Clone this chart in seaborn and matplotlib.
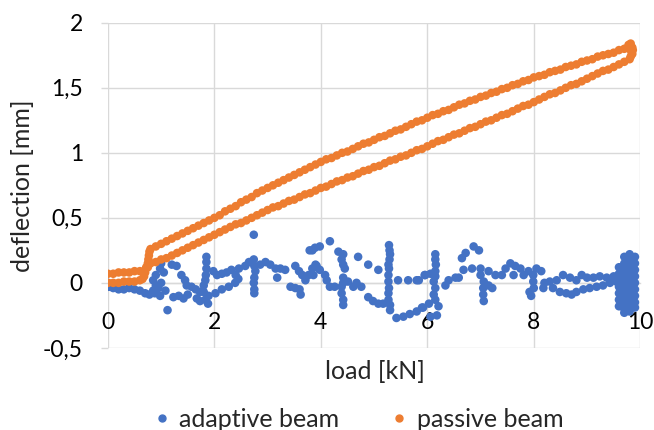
import matplotlib
matplotlib.use("Agg")
import matplotlib.pyplot as plt
from matplotlib.lines import Line2D
import seaborn as sns
import pandas as pd

# ---------------- data ----------------
passive_load_up = [0.0, 0.1, 0.2, 0.3, 0.4, 0.5, 0.6, 0.7,
                   0.75, 0.75, 0.76, 0.77, 0.78, 0.8,
                   0.9, 1.0, 1.1, 1.2, 1.3, 1.4, 1.5, 1.6, 1.7, 1.8, 1.9, 2.0,
                   2.1, 2.2, 2.3, 2.4, 2.5, 2.6, 2.7, 2.8, 2.9, 3.0,
                   3.1, 3.2, 3.3, 3.4, 3.5, 3.6, 3.7, 3.8, 3.9, 4.0,
                   4.1, 4.2, 4.3, 4.4, 4.5, 4.6, 4.7, 4.8, 4.9, 5.0,
                   5.1, 5.2, 5.3, 5.4, 5.5, 5.6, 5.7, 5.8, 5.9, 6.0,
                   6.1, 6.2, 6.3, 6.4, 6.5, 6.6, 6.7, 6.8, 6.9, 7.0,
                   7.1, 7.2, 7.3, 7.4, 7.5, 7.6, 7.7, 7.8, 7.9, 8.0,
                   8.1, 8.2, 8.3, 8.4, 8.5, 8.6, 8.7, 8.8, 8.9, 9.0,
                   9.1, 9.2, 9.3, 9.4, 9.5, 9.6, 9.7, 9.8,
                   9.82, 9.85, 9.83, 9.85, 9.82, 9.78, 9.86]
passive_defl_up = [0.07, 0.07, 0.08, 0.08, 0.08, 0.09, 0.09, 0.10,
                   0.12, 0.15, 0.18, 0.21, 0.24, 0.26,
                   0.28, 0.30, 0.32, 0.34, 0.36, 0.38, 0.40, 0.42, 0.44, 0.46, 0.48, 0.50,
                   0.52, 0.55, 0.57, 0.59, 0.62, 0.64, 0.66, 0.69, 0.71, 0.73,
                   0.75, 0.77, 0.79, 0.81, 0.83, 0.85, 0.87, 0.89, 0.91, 0.93,
                   0.95, 0.96, 0.98, 1.00, 1.01, 1.03, 1.05, 1.07, 1.08, 1.10,
                   1.12, 1.13, 1.15, 1.17, 1.18, 1.20, 1.22, 1.24, 1.25, 1.27,
                   1.29, 1.30, 1.32, 1.33, 1.35, 1.37, 1.38, 1.40, 1.41, 1.43,
                   1.44, 1.46, 1.47, 1.49, 1.50, 1.52, 1.53, 1.55, 1.56, 1.58,
                   1.59, 1.60, 1.62, 1.63, 1.64, 1.66, 1.67, 1.68, 1.70, 1.71,
                   1.72, 1.74, 1.75, 1.76, 1.77, 1.79, 1.80, 1.82,
                   1.84, 1.81, 1.78, 1.76, 1.74, 1.83, 1.79]

passive_load_down = [9.8, 9.7, 9.6, 9.5, 9.4, 9.3, 9.2, 9.1, 9.0,
                     8.9, 8.8, 8.7, 8.6, 8.5, 8.4, 8.3, 8.2, 8.1, 8.0,
                     7.9, 7.8, 7.7, 7.6, 7.5, 7.4, 7.3, 7.2, 7.1, 7.0,
                     6.9, 6.8, 6.7, 6.6, 6.5, 6.4, 6.3, 6.2, 6.1, 6.0,
                     5.9, 5.8, 5.7, 5.6, 5.5, 5.4, 5.3, 5.2, 5.1, 5.0,
                     4.9, 4.8, 4.7, 4.6, 4.5, 4.4, 4.3, 4.2, 4.1, 4.0,
                     3.9, 3.8, 3.7, 3.6, 3.5, 3.4, 3.3, 3.2, 3.1, 3.0,
                     2.9, 2.8, 2.7, 2.6, 2.5, 2.4, 2.3, 2.2, 2.1, 2.0,
                     1.9, 1.8, 1.7, 1.6, 1.5, 1.4, 1.3, 1.2, 1.1, 1.0, 0.9, 0.8,
                     0.72, 0.7, 0.68, 0.65, 0.6, 0.5, 0.4, 0.3, 0.2, 0.1, 0.0]
passive_defl_down = [1.72, 1.70, 1.68, 1.66, 1.64, 1.63, 1.61, 1.59, 1.57,
                     1.55, 1.53, 1.52, 1.50, 1.48, 1.46, 1.45, 1.43, 1.41, 1.39,
                     1.37, 1.36, 1.34, 1.32, 1.30, 1.29, 1.27, 1.25, 1.24, 1.22,
                     1.20, 1.19, 1.17, 1.15, 1.14, 1.12, 1.10, 1.09, 1.07, 1.05,
                     1.03, 1.02, 1.00, 0.98, 0.97, 0.95, 0.94, 0.92, 0.90, 0.89,
                     0.87, 0.86, 0.84, 0.82, 0.81, 0.79, 0.78, 0.76, 0.74, 0.73,
                     0.71, 0.69, 0.68, 0.66, 0.64, 0.63, 0.61, 0.59, 0.58, 0.56,
                     0.54, 0.52, 0.50, 0.48, 0.46, 0.45, 0.43, 0.41, 0.39, 0.37,
                     0.35, 0.33, 0.31, 0.29, 0.27, 0.25, 0.23, 0.21, 0.19, 0.18, 0.16, 0.15,
                     0.12, 0.08, 0.05, 0.03, 0.02, 0.01, 0.01, 0.01, 0.00, 0.00, 0.00]

# adaptive beam: (load kN, deflection mm) points
adaptive_points = [
    (0.0, 0.0), (0.02, -0.03), (0.1, -0.04), (0.2, -0.05), (0.3, -0.05), (0.4, -0.04),
    (0.5, -0.05), (0.6, -0.06), (0.7, -0.08), (0.78, -0.09), (0.85, -0.06), (0.9, -0.02),
    (0.85, 0.02), (0.9, 0.06), (0.98, 0.11), (1.0, 0.15), (1.05, 0.08), (1.0, 0.0),
    (0.95, -0.04), (0.88, -0.08), (0.98, -0.1), (1.08, -0.06), (1.12, -0.21), (1.2, 0.14),
    (1.29, 0.13), (1.38, 0.06), (1.45, 0.02), (1.48, -0.02), (1.23, -0.11), (1.33, -0.1),
    (1.42, -0.12), (1.5, -0.09), (1.57, -0.03), (1.65, -0.05), (1.73, -0.07), (1.67, -0.12),
    (1.73, -0.14), (1.85, 0.2), (1.85, 0.16), (1.85, 0.11), (1.84, 0.06), (1.83, 0.02),
    (1.8, -0.02), (1.8, -0.07), (1.83, -0.13), (1.88, -0.16),
    (1.98, 0.09), (2.05, 0.06), (2.14, 0.07), (2.23, 0.08), (2.32, 0.1), (2.46, 0.11),
    (2.4, 0.06), (1.89, -0.1), (2.02, -0.08), (2.14, -0.05), (2.27, -0.03), (2.39, 0.0),
    (2.45, 0.03), (2.74, 0.37), (2.58, 0.13), (2.65, 0.16), (2.74, 0.18), (2.75, 0.13),
    (2.77, 0.09), (2.75, 0.04), (2.74, 0.0), (2.75, -0.05), (2.75, -0.08),
    (2.86, 0.14), (2.96, 0.16), (3.05, 0.14), (3.15, 0.11), (3.24, 0.11), (3.33, 0.1),
    (3.18, 0.04), (3.43, -0.03), (3.52, -0.04), (3.62, -0.09), (3.6, -0.05),
    (3.52, 0.13), (3.59, 0.09), (3.65, 0.06), (3.71, 0.02), (3.77, 0.06), (3.84, 0.11),
    (3.84, 0.25), (3.79, 0.25), (3.89, 0.27), (3.98, 0.28), (4.17, 0.32), (3.9, 0.14),
    (3.92, 0.13), (3.98, 0.1), (3.86, 0.06),
    (4.08, 0.06), (4.11, 0.02), (4.17, -0.03), (4.26, -0.03),
    (4.33, 0.24), (4.42, 0.22), (4.39, 0.18), (4.42, 0.14), (4.45, 0.11),
    (4.42, 0.04), (4.42, 0.0), (4.39, -0.03), (4.39, -0.08), (4.42, -0.13), (4.42, -0.17),
    (4.51, 0.01), (4.61, -0.03), (4.67, 0.0), (4.76, -0.03),
    (4.7, 0.2), (4.89, 0.14), (5.08, 0.1),
    (4.89, -0.11), (4.98, -0.14), (5.08, -0.16), (5.17, -0.16), (5.27, -0.13), (5.3, -0.17),
    (5.3, -0.21), (5.28, 0.29), (5.29, 0.25), (5.3, 0.22), (5.29, 0.18), (5.28, 0.11),
    (5.27, 0.14), (5.27, 0.06), (5.27, 0.01), (5.28, -0.04), (5.27, -0.08),
    (5.45, 0.02), (5.64, 0.02), (5.8, 0.02), (5.95, 0.06),
    (5.42, -0.27), (5.55, -0.26), (5.67, -0.24), (5.8, -0.22), (5.92, -0.19),
    (6.15, 0.22), (6.15, 0.18), (6.16, 0.14), (6.15, 0.09), (6.15, 0.05), (6.12, 0.01),
    (6.15, -0.04), (6.12, -0.09), (5.84, 0.02), (5.96, 0.06), (6.06, 0.07),
    (6.03, -0.16), (6.15, -0.13), (6.21, -0.18), (5.9, -0.19), (6.18, -0.25), (6.06, -0.26),
    (6.34, -0.02), (6.4, 0.02), (6.53, 0.04), (6.59, 0.04),
    (6.65, 0.19), (6.72, 0.23), (6.68, 0.1), (6.84, 0.11), (6.87, 0.28), (6.97, 0.25),
    (7.0, 0.11), (7.0, 0.06), (7.06, 0.01), (7.05, -0.04), (7.05, -0.09), (7.06, -0.14),
    (7.22, -0.04), (7.15, -0.02),
    (7.15, 0.09), (7.28, 0.06), (7.4, 0.06), (7.47, 0.11), (7.56, 0.15), (7.65, 0.13),
    (7.75, 0.11), (7.81, 0.06), (7.9, 0.09), (7.62, 0.06),
    (7.99, 0.06), (8.05, 0.11), (8.14, 0.09), (7.99, 0.01), (8.0, -0.04), (7.92, -0.07),
    (7.95, -0.1),
    (8.18, -0.04), (8.2, 0.0), (8.3, 0.01), (8.43, 0.02), (8.55, 0.06), (8.68, 0.04),
    (8.8, 0.02), (8.9, 0.06), (9.0, 0.04), (9.12, 0.04), (9.24, 0.05), (9.37, 0.04),
    (9.5, 0.05), (8.36, -0.04), (8.49, -0.07), (8.61, -0.08), (8.71, -0.09), (8.8, -0.07),
    (8.93, -0.05), (9.05, -0.04), (9.18, -0.03), (9.3, -0.02), (9.43, 0.0), (9.55, 0.01),
    (9.6, 0.12), (9.6, 0.07), (9.6, 0.02), (9.6, -0.03), (9.6, -0.08), (9.6, -0.13), (9.6, -0.18),
    (9.7, 0.2), (9.7, 0.15), (9.7, 0.1), (9.7, 0.05), (9.7, 0.0), (9.7, -0.05), (9.7, -0.1),
    (9.7, -0.15), (9.7, -0.2), (9.7, -0.23),
    (9.8, 0.22), (9.8, 0.17), (9.8, 0.12), (9.8, 0.07), (9.8, 0.02), (9.8, -0.03), (9.8, -0.08),
    (9.8, -0.13), (9.8, -0.18), (9.8, -0.22),
    (9.9, 0.2), (9.9, 0.15), (9.9, 0.1), (9.9, 0.05), (9.9, 0.0), (9.9, -0.05), (9.9, -0.1),
    (9.9, -0.15), (9.9, -0.19),
]

series_names = ["adaptive beam", "passive beam"]
series_colors = ["#4472C4", "#ED7D31"]
x_ticks = [0, 2, 4, 6, 8, 10]
y_ticks = [-0.5, 0, 0.5, 1, 1.5, 2]
y_tick_labels = ["-0,5", "0", "0,5", "1", "1,5", "2"]

# ---------------- build table ----------------
adaptive_load = [p[0] for p in adaptive_points]
adaptive_defl = [p[1] for p in adaptive_points]
passive_load = passive_load_up + passive_load_down
passive_defl = passive_defl_up + passive_defl_down

df = pd.DataFrame({
    "load": adaptive_load + passive_load,
    "deflection": adaptive_defl + passive_defl,
    "series": [series_names[0]] * len(adaptive_load) + [series_names[1]] * len(passive_load),
})

sns.set_theme(style="white")
plt.rcParams["font.family"] = ["Lato", "DejaVu Sans"]

fig = plt.figure(figsize=(6.54, 4.30), dpi=100)
ax = fig.add_axes([0.165, 0.191, 0.814, 0.756])

sns.scatterplot(data=df, x="load", y="deflection", hue="series",
                palette=dict(zip(series_names, series_colors)),
                s=38, linewidth=0, ax=ax, legend=False, zorder=3)

ax.set_xlim(0, 10)
ax.set_ylim(-0.5, 2)
ax.set_xticks(x_ticks)
ax.set_xticklabels([str(t) for t in x_ticks])
ax.set_yticks(y_ticks)
ax.set_yticklabels(y_tick_labels)
ax.grid(True, color="#D9D9D9", linewidth=1)
ax.set_axisbelow(True)
for sp in ["top", "right", "left"]:
    ax.spines[sp].set_visible(False)
ax.spines["bottom"].set_position(("data", 0))
ax.spines["bottom"].set_color("#D9D9D9")
ax.spines["bottom"].set_linewidth(1)

ax.tick_params(axis="x", length=0, pad=21, labelsize=16.5, colors="black")
ax.tick_params(axis="y", length=5, width=1, color="#D9D9D9", pad=13, labelsize=16.5,
               labelcolor="black", left=True)

ax.set_xlabel("")
ax.set_ylabel("")
fig.text(0.034, 0.568, "deflection [mm]", rotation=90, ha="center", va="center", fontsize=18)
fig.text(0.573, 0.137, "load [kN]", ha="center", va="center", fontsize=18)

handles = [Line2D([], [], marker="o", linestyle="", color=c, markersize=5) for c in series_colors]
fig.legend(handles, series_names, loc="center", bbox_to_anchor=(0.545, 0.025), ncol=2,
           frameon=False, fontsize=18, handletextpad=0.2, columnspacing=1.9,
           handlelength=1.0, borderpad=0.0)

fig.savefig("out.png", dpi=100)
